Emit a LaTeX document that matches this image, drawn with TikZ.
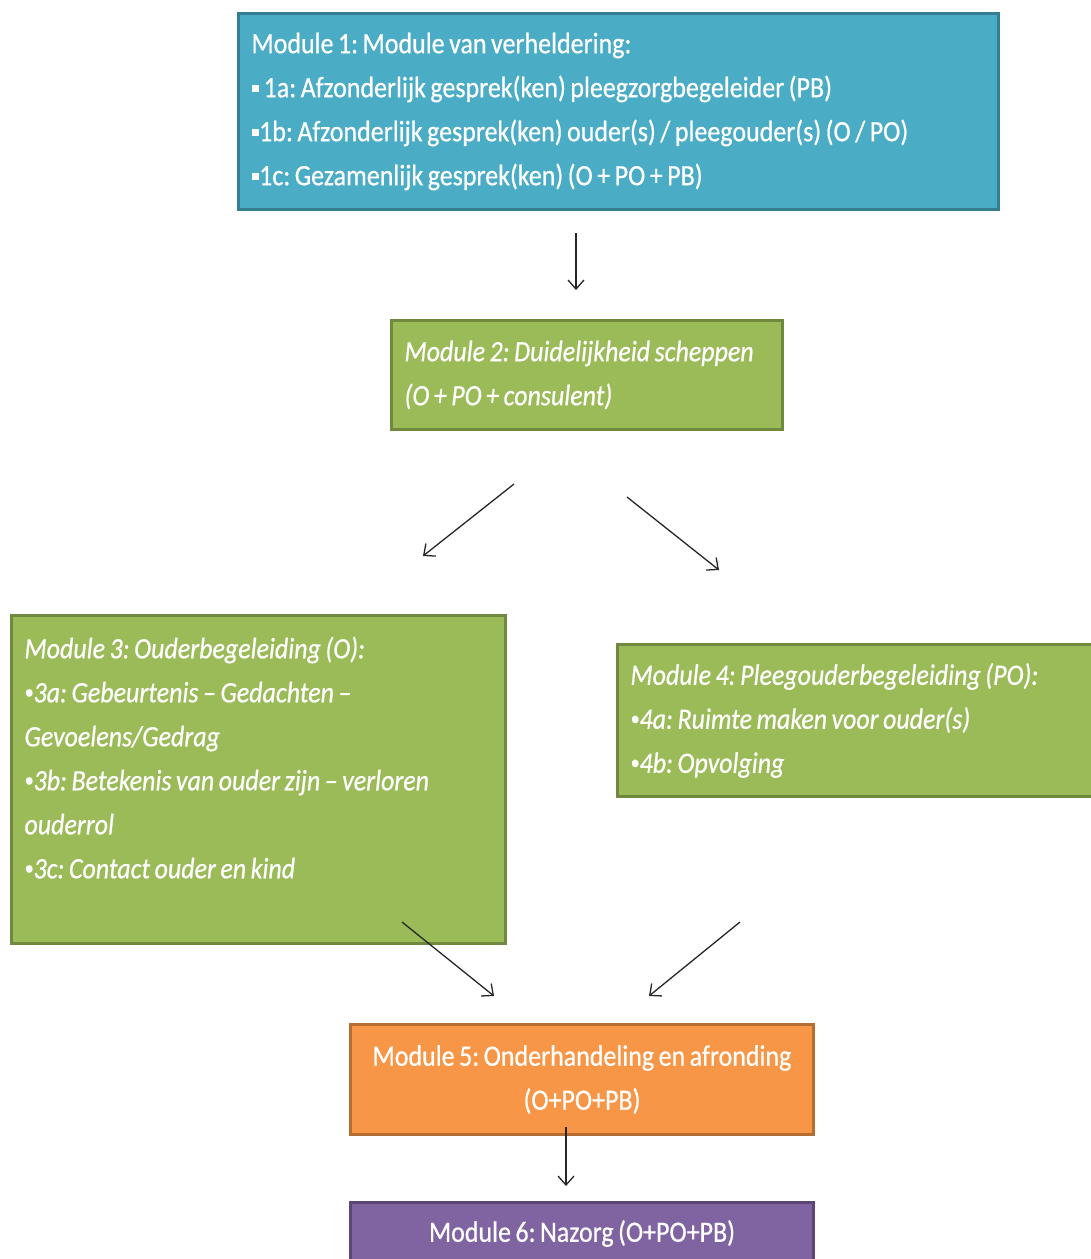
\documentclass[tikz,border=0pt]{standalone}
\usepackage{fontspec}
\setmainfont{Carlito}[FakeStretch=0.88, FakeBold=0.6]
\usetikzlibrary{arrows.meta}

% kleine opsommingstekens: vierkant en rond
\newcommand{\vkbullet}{\raisebox{0.16em}{\rule{0.26em}{0.26em}}}
\newcommand{\rdbullet}{\raisebox{0.12em}{\scalebox{0.7}{•}}}

\begin{document}
\frenchspacing
\begin{tikzpicture}[x=1pt, y=-1pt, font=\fontsize{29.5}{44}\selectfont,
    module/.style={line width=3pt, text=white, anchor=north west, align=left,
      inner xsep=13pt, inner ysep=0pt,
      execute at begin node={\spaceskip=4.5pt\xspaceskip=4.5pt\relax}},
    blauwbox/.style={module, fill=blauw, draw=blauwrand},
    groenbox/.style={module, fill=groen, draw=groenrand, font=\fontsize{29.5}{44}\selectfont\itshape},
    oranjebox/.style={module, fill=oranje, draw=oranjerand, align=center},
    paarsbox/.style={module, fill=paars, draw=paarsrand, align=center},
    pijl/.style={black!85, line width=1.3pt, -{Straight Barb[length=9pt, width=16pt]}},
  ]
  \definecolor{blauw}{RGB}{75,172,198}
  \definecolor{blauwrand}{RGB}{53,125,145}
  \definecolor{groen}{RGB}{155,187,89}
  \definecolor{groenrand}{RGB}{113,137,63}
  \definecolor{oranje}{RGB}{247,150,70}
  \definecolor{oranjerand}{RGB}{182,109,49}
  \definecolor{paars}{RGB}{128,100,162}
  \definecolor{paarsrand}{RGB}{92,71,118}

  \useasboundingbox (0,0) rectangle (1091,1259);
  \clip (0,0) rectangle (1091,1259);

  % ---------------- modules ----------------------------------------
  \node (m1) [blauwbox, text width=734pt, minimum height=196pt] at (237,12)
    {Module 1: Module van verheldering:\\
     \vkbullet\ 1a: Afzonderlijk gesprek(ken) pleegzorgbegeleider (PB)\\
     \vkbullet1b: Afzonderlijk gesprek(ken) ouder(s) / pleegouder(s) (O / PO)\\
     \vkbullet1c: Gezamenlijk gesprek(ken) (O + PO + PB)};
  \node (m2) [groenbox, text width=365pt, minimum height=109pt] at (390,319)
    {Module 2: Duidelijkheid scheppen\\ (O + PO + consulent)};
  \node (m3) [groenbox, text width=468pt, minimum height=328pt] at (10,614)
    {Module 3: Ouderbegeleiding (O):\\
     \rdbullet3a: Gebeurtenis -- Gedachten --\\
     Gevoelens/Gedrag\\
     \rdbullet3b: Betekenis van ouder zijn -- verloren\\
     ouderrol\\
     \rdbullet3c: Contact ouder en kind\\ \mbox{}};
  \node (m4) [groenbox, text width=474pt, minimum height=152pt] at (616,643)
    {Module 4: Pleegouderbegeleiding (PO):\\
     \rdbullet4a: Ruimte maken voor ouder(s)\\
     \rdbullet4b: Opvolging};
  \node (m5) [oranjebox, text width=437pt, minimum height=110pt] at (349,1023)
    {Module 5: Onderhandeling en afronding\\ (O+PO+PB)};
  \node (m6) [paarsbox, text width=437pt, minimum height=62pt] at (349,1201)
    {Module 6: Nazorg (O+PO+PB)};

  % ---------------- pijlen (los van de vakken) ---------------------
  \coordinate (p1a) at (576,233);  \coordinate (p1b) at (576,290);
  \coordinate (p2a) at (514,484);  \coordinate (p2b) at (423,556);
  \coordinate (p3a) at (627,497);  \coordinate (p3b) at (719,570);
  \coordinate (p4a) at (402,922);  \coordinate (p4b) at (494,996);
  \coordinate (p5a) at (740,922);  \coordinate (p5b) at (649,996);
  \coordinate (p6a) at (566,1127); \coordinate (p6b) at (566,1186);
  \foreach \p in {1,...,6} \draw[pijl] (p\p a) -- (p\p b);
\end{tikzpicture}
\end{document}
